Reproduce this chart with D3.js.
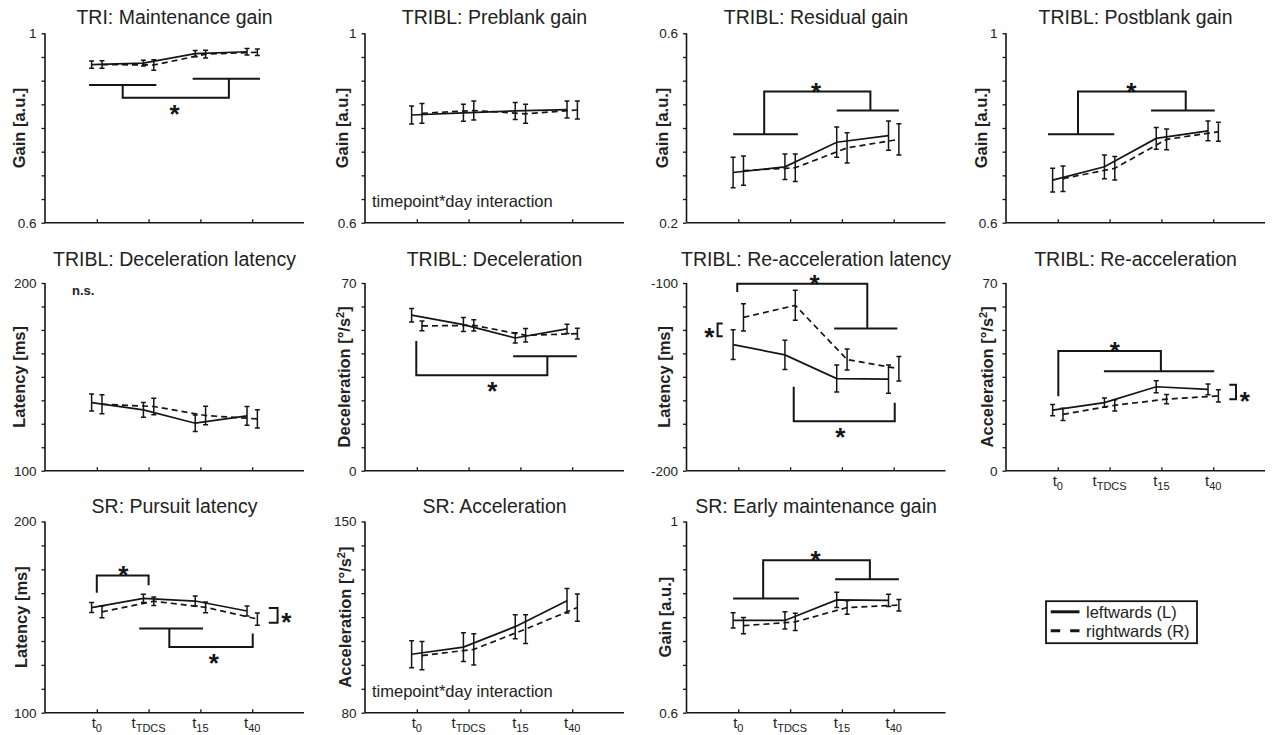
<!DOCTYPE html>
<html><head><meta charset="utf-8">
<script src="https://cdn.jsdelivr.net/npm/d3@7"></script>
<style>
body{margin:0;background:#fff}
svg{display:block}
text{font-family:"Liberation Sans",Arial,Helvetica,sans-serif}
</style>
</head><body>
<svg id="chart" width="1274" height="735"></svg>
<script>
// ---------- data ----------
const timepoints = [1, 2, 3, 4];
const timepointSubs = ["0", "TDCS", "15", "40"];
const seriesNames = ["leftwards (L)", "rightwards (R)"];

const titles = [
  "TRI: Maintenance gain", "TRIBL: Preblank gain", "TRIBL: Residual gain", "TRIBL: Postblank gain",
  "TRIBL: Deceleration latency", "TRIBL: Deceleration", "TRIBL: Re-acceleration latency", "TRIBL: Re-acceleration",
  "SR: Pursuit latency", "SR: Acceleration", "SR: Early maintenance gain"
];
const yLabels = [
  "Gain [a.u.]", "Gain [a.u.]", "Gain [a.u.]", "Gain [a.u.]",
  "Latency [ms]", "Deceleration [°/s^2]", "Latency [ms]", "Acceleration [°/s^2]",
  "Latency [ms]", "Acceleration [°/s^2]", "Gain [a.u.]"
];
const yDomains = [
  [0.6, 1], [0.6, 1], [0.2, 0.6], [0.6, 1],
  [100, 200], [0, 70], [-200, -100], [0, 70],
  [100, 200], [80, 150], [0.6, 1]
];
const meanL = [
  [0.934, 0.937, 0.957, 0.961],
  [0.8275, 0.832, 0.836, 0.839],
  [0.306, 0.318, 0.370, 0.384],
  [0.690, 0.718, 0.778, 0.794],
  [136.3, 132.4, 125.3, 129.2],
  [58.0, 54.5, 49.5, 52.9],
  [-132.8, -138.3, -150.9, -151.2],
  [22.6, 25.4, 31.3, 30.3],
  [155.0, 159.8, 158.4, 153.2],
  [101.4, 104.0, 111.5, 121.0],
  [0.793, 0.793, 0.836, 0.835]
];
const errL = [
  [0.0077, 0.006, 0.0067, 0.007],
  [0.019, 0.018, 0.018, 0.018],
  [0.032, 0.027, 0.032, 0.031],
  [0.025, 0.025, 0.023, 0.021],
  [4.5, 3.9, 4.4, 5.0],
  [2.5, 2.6, 1.9, 1.7],
  [7.9, 7.8, 7.2, 7.5],
  [2.1, 1.7, 2.2, 2.0],
  [2.6, 2.2, 2.6, 2.6],
  [4.9, 5.3, 4.4, 4.5],
  [0.016, 0.018, 0.016, 0.013]
];
const meanR = [
  [0.934, 0.933, 0.956, 0.960],
  [0.831, 0.837, 0.830, 0.838],
  [0.310, 0.316, 0.358, 0.376],
  [0.693, 0.715, 0.776, 0.792],
  [135.4, 134.2, 129.4, 127.6],
  [54.0, 54.2, 50.5, 51.1],
  [-118.3, -111.9, -140.8, -145.7],
  [21.0, 24.4, 26.7, 27.9],
  [152.7, 158.3, 155.1, 149.0],
  [100.9, 103.2, 110.6, 118.5],
  [0.782, 0.790, 0.820, 0.825]
];
const errR = [
  [0.008, 0.011, 0.008, 0.007],
  [0.021, 0.020, 0.020, 0.019],
  [0.031, 0.029, 0.032, 0.033],
  [0.027, 0.025, 0.022, 0.020],
  [5.0, 4.4, 4.9, 4.9],
  [1.8, 2.1, 2.5, 2.0],
  [7.3, 8.0, 5.6, 6.5],
  [2.3, 2.1, 1.7, 2.3],
  [3.1, 2.2, 2.8, 3.2],
  [5.2, 5.7, 5.3, 5.0],
  [0.017, 0.018, 0.014, 0.012]
];
// significance brackets (polylines in data coordinates: [timepoint, value])
const bracketLines = [
  [[[0.85,0.891],[2.15,0.891]], [[2.85,0.904],[4.15,0.904]], [[1.5,0.891],[1.5,0.864],[3.55,0.864],[3.55,0.904]]],
  [],
  [[[0.9,0.387],[2.15,0.387]], [[1.5,0.387],[1.5,0.477],[3.55,0.477],[3.55,0.437]], [[2.9,0.437],[4.1,0.437]]],
  [[[0.81,0.787],[2.09,0.787]], [[1.39,0.787],[1.39,0.877],[3.47,0.877],[3.47,0.837]], [[2.8,0.837],[4.03,0.837]]],
  [],
  [[[0.99,48.4],[0.99,35.6],[3.52,35.6],[3.52,42.7]], [[2.86,42.7],[4.09,42.7]]],
  [[[0.98,-104.8],[0.98,-100.35],[3.49,-100.35],[3.49,-124.3]], [[2.85,-124.3],[4.07,-124.3]],
   [[2.07,-155.3],[2.07,-173.6],[4.02,-173.6],[4.02,-163.8]],
   [[0.70,-121.6],[0.60,-121.6],[0.60,-128.4],[0.70,-128.4]]],
  [[[1.01,27.8],[1.01,44.6],[2.99,44.6],[2.99,37.1]], [[1.89,37.1],[4.02,37.1]],
   [[4.31,32.1],[4.44,32.1],[4.44,26.6],[4.31,26.6]]],
  [[[1.0,162.8],[1.0,171.8],[2.0,171.8],[2.0,166.6]], [[1.82,144.0],[3.05,144.0]],
   [[2.40,144.0],[2.40,134.4],[4.01,134.4],[4.01,141.4]],
   [[4.32,154.8],[4.49,154.8],[4.49,147.1],[4.32,147.1]]],
  [],
  [[[0.90,0.839],[2.17,0.839]], [[1.48,0.839],[1.48,0.919],[3.54,0.919],[3.54,0.879]], [[2.87,0.879],[4.10,0.879]]]
];
const stars = [
  [[2.5,0.845]], [], [[2.5,0.492]], [[2.42,0.891]], [], [[2.46,32.5]],
  [[2.47,-96.8],[2.97,-178.4],[0.44,-124.8]],
  [[2.10,47.4],[4.61,28.8]],
  [[1.51,175.7],[3.26,129.7],[4.66,151.0]],
  [], [[2.49,0.935]]
];
const notes = ["", "timepoint*day interaction", "", "", "n.s.", "", "", "", "", "timepoint*day interaction", ""];
const showXLabels = [false,false,false,false,false,false,false,true,true,true,true];

// ---------- layout ----------
const colX = [45, 365, 686.5, 1006];
const plotW = 259;
const rowTop = [33.3, 283, 521.5];
const rowH = [189.4, 187.7, 191.2];
const titleBase = [23.5, 266.3, 513];
const yLabelOff = [-20, -17.5, -18.5, -19, -20, -15.5, -16.5, -13.5, -18, -14, -16];
const ink = "#151515";
const txt = "#222";

const svg = d3.select("#chart");

titles.forEach((title, i) => {
  const row = Math.floor(i / 4), col = i % 4;
  const x0 = colX[col], top = rowTop[row], h = rowH[row];
  const x = d3.scaleLinear().domain([0, 5]).range([x0, x0 + plotW]);
  const y = d3.scaleLinear().domain(yDomains[i]).range([top + h, top]);
  const g = svg.append("g");

  // axes
  const yTicks = d3.range(9).map(k => yDomains[i][0] + k * (yDomains[i][1] - yDomains[i][0]) / 8);
  const yAxis = d3.axisLeft(y).tickValues(yTicks).tickSize(3.5)
    .tickFormat(v => (Math.abs(v - yDomains[i][0]) < 1e-9 || Math.abs(v - yDomains[i][1]) < 1e-9) ? String(+v.toFixed(3)) : "");
  const ya = g.append("g").attr("transform", `translate(${x0},0)`).call(yAxis);
  ya.select(".domain").attr("d", `M0,${top + h}V${top}`).attr("stroke", ink).attr("stroke-width", 1.6);
  ya.selectAll(".tick line").attr("stroke", ink).attr("stroke-width", 1.3);
  ya.selectAll(".tick text").attr("font-size", 13.5).attr("fill", txt).attr("x", -8.5)
    .attr("font-family", '"Liberation Sans",Arial,sans-serif');

  const xAxis = d3.axisBottom(x).tickValues(timepoints).tickSize(-3.5).tickFormat("");
  const xa = g.append("g").attr("transform", `translate(0,${top + h})`).call(xAxis);
  xa.select(".domain").attr("d", `M${x0},0H${x0 + plotW}`).attr("stroke", ink).attr("stroke-width", 1.6);
  xa.selectAll(".tick line").attr("stroke", ink).attr("stroke-width", 1.3);

  if (showXLabels[i]) {
    timepoints.forEach((t, k) => {
      const tx = g.append("text").attr("x", x(t)).attr("y", top + h + 15.5)
        .attr("text-anchor", "middle").attr("font-size", 15).attr("fill", txt);
      tx.append("tspan").text("t");
      tx.append("tspan").attr("font-size", 11).attr("dy", 3.5).text(timepointSubs[k]);
    });
  }

  // title
  g.append("text").attr("x", x0 + plotW / 2).attr("y", titleBase[row])
    .attr("text-anchor", "middle").attr("font-size", 19.5).attr("fill", txt).text(title);

  // y label
  const parts = yLabels[i].split("^");
  const yl = g.append("text")
    .attr("transform", `translate(${x0 + yLabelOff[i]},${top + h / 2}) rotate(-90)`)
    .attr("text-anchor", "middle").attr("font-size", 16.5).attr("font-weight", "bold").attr("fill", txt);
  if (parts.length === 1) yl.text(parts[0]);
  else {
    yl.append("tspan").text(parts[0]);
    yl.append("tspan").attr("font-size", 11).attr("dy", -6).text(parts[1].slice(0, 1));
    yl.append("tspan").attr("dy", 6).text(parts[1].slice(1));
  }

  // notes
  if (notes[i] === "n.s.") {
    g.append("text").attr("x", x0 + 27).attr("y", top + 12).attr("font-size", 13)
      .attr("font-weight", "bold").attr("fill", txt).text(notes[i]);
  } else if (notes[i]) {
    g.append("text").attr("x", x0 + 7).attr("y", top + h - 16).attr("font-size", 16.5)
      .attr("fill", txt).text(notes[i]);
  }

  // series
  const seriesSets = [
    {m: meanL[i], e: errL[i], off: -0.1, dash: null},
    {m: meanR[i], e: errR[i], off: 0.1, dash: "6,4"}
  ];
  const line = d3.line().x(d => x(d[0])).y(d => y(d[1]));
  seriesSets.slice().reverse().forEach(s => {
    const pts = timepoints.map((t, k) => [t + s.off, s.m[k], s.e[k]]);
    g.append("path").attr("d", line(pts)).attr("fill", "none").attr("stroke", ink)
      .attr("stroke-width", 1.7).attr("stroke-dasharray", s.dash);
    pts.forEach(p => {
      const px = x(p[0]), y1 = y(p[1] - p[2]), y2 = y(p[1] + p[2]);
      g.append("path").attr("d", `M${px},${y1}V${y2}M${px - 2.5},${y1}H${px + 2.5}M${px - 2.5},${y2}H${px + 2.5}`)
        .attr("fill", "none").attr("stroke", ink).attr("stroke-width", 1.5);
    });
  });

  // brackets & stars
  bracketLines[i].forEach(pl => {
    g.append("path").attr("d", line(pl)).attr("fill", "none").attr("stroke", ink)
      .attr("stroke-width", 2).attr("stroke-linejoin", "miter");
  });
  stars[i].forEach(s => {
    g.append("text").attr("x", x(s[0])).attr("y", y(s[1])).attr("dy", "0.62em")
      .attr("text-anchor", "middle").attr("font-size", 26).attr("font-weight", "bold")
      .attr("fill", ink).text("*");
  });
});

// legend
const lg = svg.append("g");
lg.append("rect").attr("x", 1046).attr("y", 601.2).attr("width", 151).attr("height", 42)
  .attr("fill", "#fff").attr("stroke", ink).attr("stroke-width", 1.8);
const legendDash = [null, "9.5,10"];
seriesNames.forEach((name, k) => {
  const ly = 611.8 + k * 19;
  lg.append("line").attr("x1", 1050.7).attr("x2", 1079.5).attr("y1", ly).attr("y2", ly)
    .attr("stroke", ink).attr("stroke-width", 3).attr("stroke-dasharray", legendDash[k]);
  lg.append("text").attr("x", 1086).attr("y", ly + 6).attr("font-size", 16.5)
    .attr("fill", txt).text(name);
});
</script>
</body></html>
